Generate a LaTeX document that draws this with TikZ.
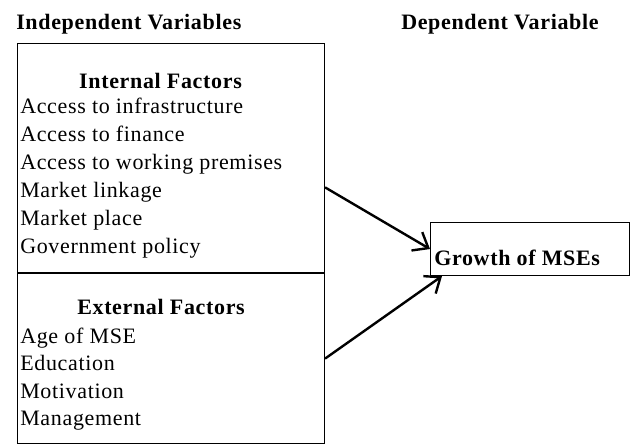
\documentclass[tikz,border=0pt]{standalone}
\usepackage{fontspec}
\setmainfont{Liberation Serif}[LetterSpace=3]
\usetikzlibrary{arrows.meta}

\begin{document}
\begin{tikzpicture}[
    x=0.75pt, y=-0.75pt,
    every node/.style={inner sep=0pt, font=\fontsize{16.5}{21}\selectfont},
    title/.style={font=\fontsize{16.5}{21}\selectfont\bfseries, anchor=base west},
    heading/.style={font=\fontsize{16.5}{21}\selectfont\bfseries, anchor=base},
    item/.style={anchor=base west},
    factor/.style={rectangle, draw, line width=0.8pt, anchor=north west, minimum width=230.25pt},
    arrow/.style={-{Straight Barb[length=10pt, width=16pt]}, line width=1.8pt}
]
    \useasboundingbox (0,0) rectangle (630,443);

    % column titles
    \node[title] (indep) at (16,29) {Independent Variables};
    \node[title] (dep) at (401,29) {Dependent Variable};

    % factor boxes
    \node[factor, minimum height=171.75pt] (internal) at (17,43) {};
    \node[factor, minimum height=127.5pt] (external) at (internal.south west) {};

    \node[heading] (inthead) at (160.5,88) {Internal Factors};
    \foreach \txt [count=\i] in {Access to infrastructure, Access to finance,
        Access to working premises, Market linkage, Market place, Government policy}
        \node[item] (int\i) at (20,{113+28*(\i-1)}) {\txt};

    \node[heading] (exthead) at (161,314) {External Factors};
    \foreach \txt [count=\i] in {Age of MSE, Education, Motivation, Management}
        \node[item] (ext\i) at (20,{343+27.5*(\i-1)}) {\txt};

    % outcome
    \node[factor, minimum width=149.25pt, minimum height=39.75pt] (growth) at (430,222) {};
    \node[title] (growthtext) at (434,265) {Growth of MSEs};

    \draw[arrow] ([yshift=-22pt]internal.east) -- (growth.west);
    \draw[arrow] (external.east) -- ([xshift=9pt]growth.south west);
\end{tikzpicture}
\end{document}
